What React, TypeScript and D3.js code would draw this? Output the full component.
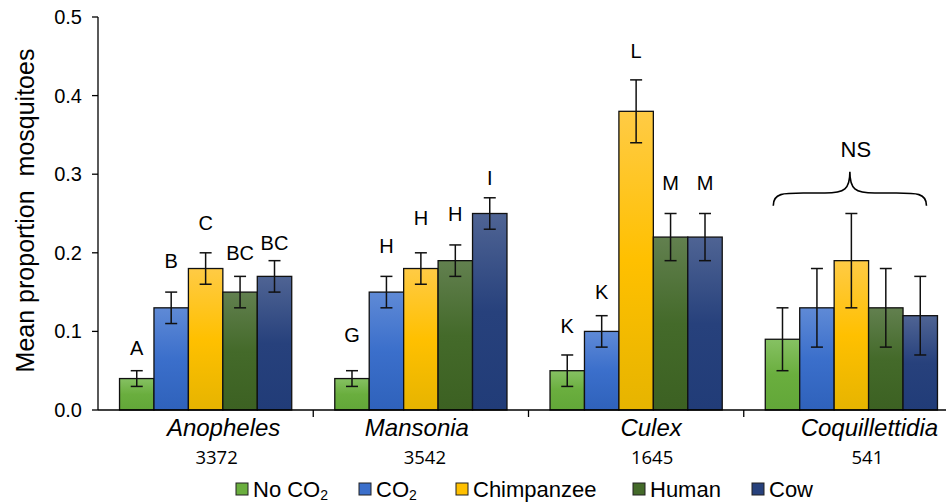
import React from "react";
import * as d3 from "d3";

// genera and sample sizes
const genera = ["Anopheles", "Mansonia", "Culex", "Coquillettidia"];
const sampleSizes = ["3372", "3542", "1645", "541"];

// treatments (series)
const treatments = ["noco2", "co2", "chimp", "human", "cow"];
const legendLabels = ["No CO", "CO", "Chimpanzee", "Human", "Cow"];
const legendSub = ["2", "2", "", "", ""];

// mean proportion per genus, one array per treatment
const noCo2 = [0.04, 0.04, 0.05, 0.09];
const co2 = [0.13, 0.15, 0.1, 0.13];
const chimpanzee = [0.18, 0.18, 0.38, 0.19];
const human = [0.15, 0.19, 0.22, 0.13];
const cow = [0.17, 0.25, 0.22, 0.12];

// error (half-width of error bars)
const noCo2Err = [0.01, 0.01, 0.02, 0.04];
const co2Err = [0.02, 0.02, 0.02, 0.05];
const chimpanzeeErr = [0.02, 0.02, 0.04, 0.06];
const humanErr = [0.02, 0.02, 0.03, 0.05];
const cowErr = [0.02, 0.02, 0.03, 0.05];

// significance letters and where they sit (data units)
const letters = [
  ["A", "B", "C", "BC", "BC"],
  ["G", "H", "H", "H", "I"],
  ["K", "K", "L", "M", "M"],
  ["", "", "", "", ""],
];
const letterY = [
  [0.079, 0.19, 0.238, 0.2, 0.212],
  [0.096, 0.209, 0.244, 0.249, 0.295],
  [0.107, 0.15, 0.457, 0.289, 0.289],
  [0, 0, 0, 0, 0],
];

const yTicks = [0, 0.1, 0.2, 0.3, 0.4, 0.5];

const values = [noCo2, co2, chimpanzee, human, cow];
const errors = [noCo2Err, co2Err, chimpanzeeErr, humanErr, cowErr];

const colors = ["#6aae3e", "#3b6fcb", "#ffc000", "#446a2a", "#27417c"];
const gradTop = ["#86c163", "#5f8ad6", "#ffcb45", "#62804f", "#4f6494"];
const gradBot = ["#62a738", "#2f62bb", "#e6b400", "#3c6122", "#213c78"];

const font = "'Liberation Sans', Arial, sans-serif";
const numFont = "'Open Sans', 'Liberation Sans', sans-serif";

// label nudges as placed in the original figure (px from group centre)
const genusNudge = [18, -4, 15, 18];
const sizeNudge = [11, 4, 16, 16];

export default function App() {
  const width = 952;
  const height = 503;

  const y = d3.scaleLinear().domain([0, 0.5]).range([410, 17]);
  const x0 = d3.scaleBand().domain(genera).range([98, 959]).padding(0);
  const x1 = d3
    .scaleBand()
    .domain(treatments)
    .range([0, x0.bandwidth()])
    .paddingInner(0)
    .paddingOuter(0.625);

  const bw = x1.bandwidth();
  const capW = 6;

  // legend positions
  const legendX = [236, 359, 456, 633, 752];
  const legendY = 489;

  const coq = genera[3];
  const bx0 = x0(coq)! + x1("noco2")! + 8;
  const bx1 = x0(coq)! + x1("cow")! + bw - 11;
  const bmid = (bx0 + bx1) / 2;
  const yEnd = y(0.26);
  const yMid = y(0.276);
  const yTip = y(0.303);
  const brace = `M${bx0},${yEnd} C${bx0},${yMid} ${bx0 + 10},${yMid} ${bx0 + 30},${yMid}
    L${bmid - 25},${yMid} C${bmid - 5},${yMid} ${bmid},${yMid - 4} ${bmid},${yTip}
    C${bmid},${yMid - 4} ${bmid + 5},${yMid} ${bmid + 25},${yMid}
    L${bx1 - 30},${yMid} C${bx1 - 10},${yMid} ${bx1},${yMid} ${bx1},${yEnd}`;

  return (
    <svg width={width} height={height} style={{ position: "absolute", left: 0, top: 0 }}>
      <defs>
        {treatments.map((t, i) => (
          <linearGradient key={t} id={`g-${t}`} x1="0" y1="0" x2="0" y2="1">
            <stop offset="0%" stopColor={gradTop[i]} />
            <stop offset="50%" stopColor={colors[i]} />
            <stop offset="100%" stopColor={gradBot[i]} />
          </linearGradient>
        ))}
      </defs>
      <rect width={width} height={height} fill="#fff" />

      {/* y axis */}
      <line x1={98} x2={98} y1={y(0.5)} y2={y(0)} stroke="#000" strokeWidth={1.3} />
      {yTicks.map((t) => (
        <g key={t}>
          <line x1={92} x2={98} y1={y(t)} y2={y(t)} stroke="#000" strokeWidth={1.3} />
          <text
            x={82}
            y={y(t)}
            textAnchor="end"
            dominantBaseline="central"
            fontFamily={font}
            fontSize={20}
            fill="#000"
          >
            {t.toFixed(1)}
          </text>
        </g>
      ))}
      <text
        transform={`translate(34,${y(0.25) - 3}) rotate(-90)`}
        textAnchor="middle"
        fontFamily={font}
        fontSize={25}
        fill="#000"
        style={{ whiteSpace: "pre" }}
      >
        {"Mean proportion  mosquitoes"}
      </text>

      {/* bars */}
      {genera.map((g, gi) => (
        <g key={g} transform={`translate(${x0(g)},0)`}>
          {treatments.map((t, ti) => {
            const v = values[ti][gi];
            const e = errors[ti][gi];
            const bx = x1(t)!;
            const cx = bx + bw / 2;
            return (
              <g key={t}>
                <rect
                  x={bx}
                  y={y(v)}
                  width={bw}
                  height={y(0) - y(v)}
                  fill={`url(#g-${t})`}
                  stroke="#111"
                  strokeWidth={1.3}
                />
                <line x1={cx} x2={cx} y1={y(v + e)} y2={y(v - e)} stroke="#111" strokeWidth={1.5} />
                <line x1={cx - capW} x2={cx + capW} y1={y(v + e)} y2={y(v + e)} stroke="#111" strokeWidth={1.5} />
                <line x1={cx - capW} x2={cx + capW} y1={y(v - e)} y2={y(v - e)} stroke="#111" strokeWidth={1.5} />
                {letters[gi][ti] && (
                  <text
                    x={cx}
                    y={y(letterY[gi][ti])}
                    textAnchor="middle"
                    dominantBaseline="central"
                    fontFamily={font}
                    fontSize={20}
                    fill="#000"
                  >
                    {letters[gi][ti]}
                  </text>
                )}
              </g>
            );
          })}
        </g>
      ))}

      {/* x axis */}
      <line x1={98} x2={946} y1={y(0)} y2={y(0)} stroke="#000" strokeWidth={1.3} />
      {genera.slice(1).map((g) => (
        <line key={g} x1={x0(g)!} x2={x0(g)!} y1={y(0)} y2={y(0) + 7} stroke="#000" strokeWidth={1.3} />
      ))}
      {genera.map((g, gi) => (
        <g key={g}>
          <text
            x={x0(g)! + x0.bandwidth() / 2 + genusNudge[gi]}
            y={427}
            textAnchor="middle"
            dominantBaseline="central"
            fontFamily={font}
            fontStyle="italic"
            fontSize={24}
            fill="#000"
          >
            {g}
          </text>
          <text
            x={x0(g)! + x0.bandwidth() / 2 + sizeNudge[gi]}
            y={456}
            textAnchor="middle"
            dominantBaseline="central"
            fontFamily={numFont}
            fontSize={18.5}
            fill="#000"
          >
            {sampleSizes[gi]}
          </text>
        </g>
      ))}

      {/* NS brace */}
      <path d={brace} fill="none" stroke="#000" strokeWidth={1.6} />
      <text
        x={bmid + 6}
        y={y(0.332)}
        textAnchor="middle"
        dominantBaseline="central"
        fontFamily={font}
        fontSize={22}
        fill="#000"
      >
        NS
      </text>

      {/* legend */}
      {legendLabels.map((l, i) => (
        <g key={l + i}>
          <rect
            x={legendX[i]}
            y={legendY - 6}
            width={12}
            height={12}
            fill={colors[i]}
            stroke="#222"
            strokeWidth={1}
          />
          <text
            x={legendX[i] + 17}
            y={legendY}
            dominantBaseline="central"
            fontFamily={font}
            fontSize={22}
            fill="#000"
          >
            {l}
            {legendSub[i] && (
              <tspan fontSize={14} dy={6}>
                {legendSub[i]}
              </tspan>
            )}
          </text>
        </g>
      ))}
    </svg>
  );
}
